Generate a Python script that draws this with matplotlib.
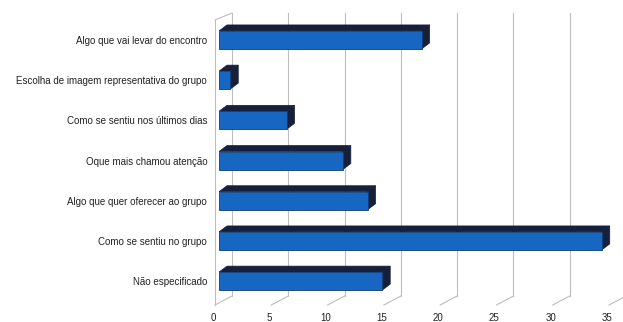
import matplotlib.pyplot as plt
from matplotlib.patches import Polygon
from matplotlib.transforms import blended_transform_factory

plt.rcParams['font.family'] = ['Liberation Sans', 'DejaVu Sans']

categories = ['Algo que vai levar do encontro',
              'Escolha de imagem representativa do grupo',
              'Como se sentiu nos últimos dias',
              'Oque mais chamou atenção',
              'Algo que quer oferecer ao grupo',
              'Como se sentiu no grupo',
              'Não especificado']
values = [18, 1, 6, 11, 13.2, 34, 14.5]
xticks = [0, 5, 10, 15, 20, 25, 30, 35]

W, H = 623, 322
fig = plt.figure(figsize=(W / 100, H / 100), dpi=100)
ax = fig.add_axes([219 / W, (H - 296) / H, 394 / W, (296 - 13) / H])
ax.set_xlim(0, 35)
ax.set_ylim(6.37, -0.67)

# pixel -> data unit factors
ppx = 394 / 35
ppy = 283 / (6.37 + 0.67)
hpx = 283  # axes height in px

grid_c = '#bdbdbd'
blend = blended_transform_factory(ax.transData, ax.transAxes)

# back wall gridlines and floor diagonals
for t in xticks:
    ax.plot([t + 13 / ppx] * 2, [0, 1], transform=blend, color=grid_c,
            lw=0.8, zorder=1, clip_on=False)
    ax.plot([t - 4 / ppx, t + 13 / ppx], [-9 / hpx, 0], transform=blend,
            color=grid_c, lw=0.8, zorder=1, clip_on=False)
    ax.text(t - 6 / ppx, -22 / hpx, str(t), transform=blend, ha='center',
            va='center', fontsize=7, color='#222222')

# left wall
ax.plot([-4 / ppx, -4 / ppx], [-9 / hpx, 1 - 7 / hpx], transform=blend,
        color=grid_c, lw=0.8, clip_on=False)
ax.plot([-4 / ppx, 13 / ppx], [1 - 7 / hpx, 1], transform=blend,
        color=grid_c, lw=0.8, clip_on=False)

# 3d bars
h = 18 / ppy
dx, dy = 8 / ppx, 6 / ppy
front_c = '#1666c2'
dark_c = '#17203a'
for i, v in enumerate(values):
    y0, y1 = i - h / 2, i + h / 2
    top = Polygon([(0, y0), (v, y0), (v + dx, y0 - dy), (dx, y0 - dy)],
                  closed=True, facecolor=dark_c, edgecolor=dark_c, lw=0.5, zorder=3)
    side = Polygon([(v, y0), (v + dx, y0 - dy), (v + dx, y1 - dy), (v, y1)],
                   closed=True, facecolor=dark_c, edgecolor=dark_c, lw=0.5, zorder=3)
    ax.add_patch(top)
    ax.add_patch(side)
    ax.barh(i, v, height=h, left=0, color=front_c, edgecolor='#0e3f7a',
            lw=0.6, zorder=4)

ax.set_yticks(range(len(categories)))
ax.set_yticklabels(categories, fontsize=7, color='#222222')
ax.tick_params(axis='y', length=0, pad=8.5)
ax.set_xticks([])
for s in ax.spines.values():
    s.set_visible(False)

fig.savefig('out.png', dpi=100)
